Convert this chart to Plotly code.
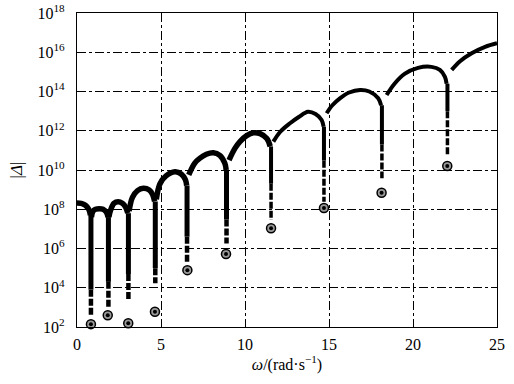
import plotly.graph_objects as go

# ---- data (omega in rad/s, |Delta|) ----
# arches of the curve, one list per arch
arch_omega = [
    [0.0, 0.25, 0.5, 0.7, 0.8],
    [0.86, 0.95, 1.1, 1.33, 1.55, 1.75, 1.85],
    [1.9, 2.0, 2.2, 2.45, 2.7, 2.9, 3.02],
    [3.1, 3.3, 3.6, 3.95, 4.3, 4.5, 4.62],
    [4.72, 4.94, 5.3, 5.83, 6.2, 6.45, 6.53],
    [6.65, 7.0, 7.32, 7.7, 8.11, 8.5, 8.8, 8.88],
    [9.05, 9.4, 9.7, 10.1, 10.5, 10.9, 11.3, 11.5],
    [11.69, 12.1, 12.68, 13.2, 13.75, 14.2, 14.56, 14.68],
    [14.86, 15.2, 15.65, 16.2, 16.85, 17.4, 17.93, 18.1],
    [18.43, 18.9, 19.5, 20.3, 21.1, 21.6, 21.9, 22.0],
    [22.3, 22.8, 23.49, 24.29, 25.0],
]
arch_delta = [
    [2.1e8, 2.0e8, 1.6e8, 1.0e8, 5.0e7],
    [4.0e7, 8.0e7, 1.0e8, 1.07e8, 1.0e8, 7.0e7, 4.0e7],
    [4.0e7, 9.0e7, 2.0e8, 2.4e8, 2.0e8, 1.26e8, 6.3e7],
    [8.0e7, 4.0e8, 8.9e8, 1.17e9, 9.5e8, 5.6e8, 2.5e8],
    [3.2e8, 2.0e9, 5.0e9, 8.1e9, 6.3e9, 3.2e9, 1.6e9],
    [5.6e9, 2.2e10, 4.0e10, 6.3e10, 7.6e10, 5.6e10, 2.2e10, 1.0e10],
    [3.2e10, 1.26e11, 2.8e11, 5.6e11, 7.9e11, 7.1e11, 4.0e11, 1.6e11],
    [2.8e11, 8.9e11, 2.4e12, 5.0e12, 9.3e12, 7.1e12, 3.5e12, 1.6e12],
    [7.8e12, 2.0e13, 4.5e13, 8.9e13, 1.2e14, 1.0e14, 4.5e13, 2.0e13],
    [6.6e13, 2.5e14, 7.9e14, 1.6e15, 1.8e15, 1.26e15, 5.6e14, 2.5e14],
    [1.26e15, 3.5e15, 8.9e15, 1.9e16, 2.9e16],
]

# vertical spikes at the roots: omega, top, end of the solid part, bottom of the dotted column
spike_omega = [0.83, 1.87, 3.06, 4.66, 6.55, 8.9, 11.55, 14.7, 18.15, 22.05]
spike_top = [5.0e7, 4.0e7, 6.3e7, 2.5e8, 1.6e9, 1.0e10, 1.6e11, 1.6e12, 2.0e13, 2.5e14]
spike_solid_end = [8.0e3, 2.0e4, 5.0e4, 1.0e5, 4.0e6, 3.0e7, 2.0e9, 3.0e10, 2.0e11, 1.0e13]
spike_bottom = [3.8e2, 8.9e2, 2.6e3, 1.7e4, 2.1e5, 1.8e6, 2.8e7, 2.4e8, 3.8e9, 5.8e10]

# circled minima
root_omega = [0.83, 1.83, 3.05, 4.64, 6.57, 8.87, 11.55, 14.7, 18.13, 22.04]
root_delta = [1.4e2, 4.0e2, 1.55e2, 6.0e2, 7.9e4, 5.2e5, 1.07e7, 1.15e8, 6.9e8, 1.6e10]

x_ticks = [0, 5, 10, 15, 20, 25]
y_ticks = [1e2, 1e4, 1e6, 1e8, 1e10, 1e12, 1e14, 1e16, 1e18]
y_tick_text = ["10<sup>%d</sup>" % e for e in range(2, 19, 2)]

fig = go.Figure()

for i, (xs, ys) in enumerate(zip(arch_omega, arch_delta)):
    w = 5.5 if i < 7 else 4
    fig.add_trace(go.Scatter(x=xs, y=ys, mode="lines",
                             line=dict(color="black", width=w, shape="spline"),
                             hoverinfo="skip", showlegend=False))

for i, (x, t, m, b) in enumerate(zip(spike_omega, spike_top, spike_solid_end, spike_bottom)):
    w = 5 if i < 6 else 4
    fig.add_trace(go.Scatter(x=[x, x], y=[t, m], mode="lines",
                             line=dict(color="black", width=w),
                             hoverinfo="skip", showlegend=False))
    fig.add_trace(go.Scatter(x=[x, x], y=[m, b], mode="lines",
                             line=dict(color="black", width=w - 0.5, dash="7px,2px"),
                             hoverinfo="skip", showlegend=False))

fig.add_trace(go.Scatter(x=root_omega, y=root_delta, mode="markers",
                         marker=dict(symbol="circle", size=9, color="#9a9a9a",
                                     line=dict(color="black", width=1.5)),
                         showlegend=False, cliponaxis=False))
fig.add_trace(go.Scatter(x=root_omega, y=root_delta, mode="markers",
                         marker=dict(symbol="circle", size=4, color="black"),
                         showlegend=False, cliponaxis=False))

font_family = "Times New Roman, Liberation Serif, DejaVu Serif, serif"

fig.update_layout(
    width=514, height=384,
    margin=dict(l=77, r=17, t=13, b=57, autoexpand=False),
    paper_bgcolor="white", plot_bgcolor="white",
    font=dict(family=font_family, size=16, color="black"),
)
fig.update_xaxes(
    range=[0, 25], tickvals=x_ticks, ticktext=[str(v) for v in x_ticks],
    showgrid=True, gridcolor="black", gridwidth=1, griddash="dashdot",
    showline=True, linecolor="black", linewidth=1.2, mirror=True,
    ticks="", ticklabelstandoff=3, zeroline=False, automargin=False,
    tickfont=dict(family=font_family, size=16),
    title=dict(text="<i>ω</i>/(rad·s<sup>−1</sup>)",
               font=dict(family=font_family, size=16), standoff=6),
)
fig.update_yaxes(
    type="log", range=[2, 18], tickvals=y_ticks, ticktext=y_tick_text,
    showgrid=True, gridcolor="black", gridwidth=1, griddash="dashdot",
    showline=True, linecolor="black", linewidth=1.2, mirror=True,
    ticks="", ticklabelstandoff=8, zeroline=False, automargin=False,
    tickfont=dict(family=font_family, size=16),
    title=dict(text="|<i>Δ</i>|", font=dict(family=font_family, size=17), standoff=10),
)

fig.write_html("out.html", config={"displayModeBar": False},
               post_script="document.body.style.margin='0';document.body.style.padding='0';")
